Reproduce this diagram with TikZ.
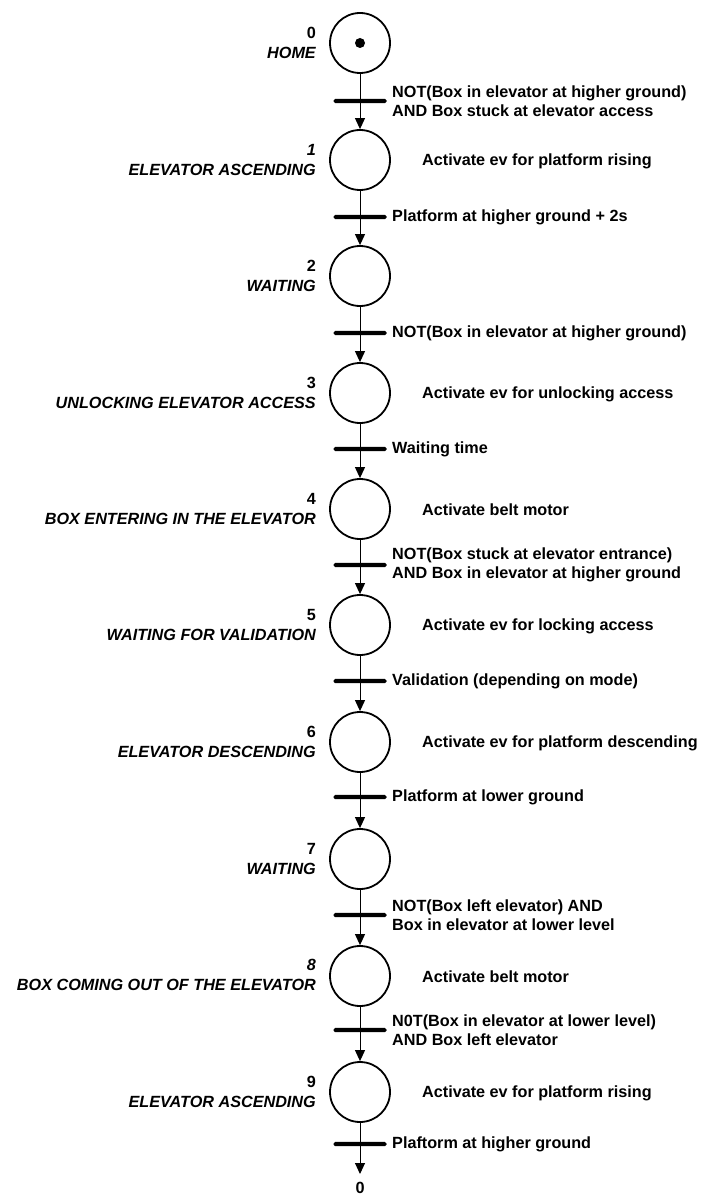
\documentclass[tikz,border=0pt]{standalone}
\usepackage{fontspec}
\setmainfont{Liberation Sans}
\usetikzlibrary{arrows.meta}
\begin{document}
\begin{tikzpicture}[x=1pt,y=-1pt,
  stepnode/.style={circle, draw, line width=1.8pt, minimum size=60pt, inner sep=0pt},
  bar/.style={rectangle, fill, minimum width=53pt, minimum height=4.2pt, inner sep=0pt, rounded corners=1.6pt},
  flow/.style={line width=1pt, -{Triangle[length=11pt,width=10pt]}},
  txt/.style={font=\fontsize{16.2}{19.5}\selectfont\bfseries, inner sep=0pt},
  cond/.style={txt, anchor=west, align=left},
  act/.style={txt, anchor=west},
  lbl/.style={txt, anchor=east, align=right},
]
\useasboundingbox (0,0) rectangle (703,1198);

% steps
\node[stepnode] (s0) at (360,43) {};
\fill (s0.center) circle (5pt);
\node[stepnode] (s1) at (360,160) {};
\node[stepnode] (s2) at (360,276) {};
\node[stepnode] (s3) at (360,393) {};
\node[stepnode] (s4) at (360,509) {};
\node[stepnode] (s5) at (360,625) {};
\node[stepnode] (s6) at (360,742) {};
\node[stepnode] (s7) at (360,859) {};
\node[stepnode] (s8) at (360,976) {};
\node[stepnode] (s9) at (360,1092) {};

% transitions
\node[bar] (t0) at (360,101) {};
\node[bar] (t1) at (360,217) {};
\node[bar] (t2) at (360,333) {};
\node[bar] (t3) at (360,449) {};
\node[bar] (t4) at (360,565) {};
\node[bar] (t5) at (360,681) {};
\node[bar] (t6) at (360,797) {};
\node[bar] (t7) at (360,915) {};
\node[bar] (t8) at (360,1030) {};
\node[bar] (t9) at (360,1144) {};
\coordinate (back) at (360,1174);

% flow
\draw[flow] (s0) -- (t0) -- (s1);
\draw[flow] (s1) -- (t1) -- (s2);
\draw[flow] (s2) -- (t2) -- (s3);
\draw[flow] (s3) -- (t3) -- (s4);
\draw[flow] (s4) -- (t4) -- (s5);
\draw[flow] (s5) -- (t5) -- (s6);
\draw[flow] (s6) -- (t6) -- (s7);
\draw[flow] (s7) -- (t7) -- (s8);
\draw[flow] (s8) -- (t8) -- (s9);
\draw[flow] (s9) -- (t9) -- (back);
\node[txt] (ret) at (360,1188) {0};

% step labels
\node[lbl] (l0) at (316,43)   {0\\\itshape HOME};
\node[lbl] (l1) at (316,160)  {\itshape 1\\\itshape ELEVATOR ASCENDING};
\node[lbl] (l2) at (316,276)  {2\\\itshape WAITING};
\node[lbl] (l3) at (316,393)  {3\\\itshape UNLOCKING ELEVATOR ACCESS};
\node[lbl] (l4) at (316,509)  {4\\\itshape BOX ENTERING IN THE ELEVATOR};
\node[lbl] (l5) at (316,625)  {5\\\itshape WAITING FOR VALIDATION};
\node[lbl] (l6) at (316,742)  {6\\\itshape ELEVATOR DESCENDING};
\node[lbl] (l7) at (316,859)  {7\\\itshape WAITING};
\node[lbl] (l8) at (316,975)  {\itshape 8\\\itshape BOX COMING OUT OF THE ELEVATOR};
\node[lbl] (l9) at (316,1092) {9\\\itshape ELEVATOR ASCENDING};

% actions
\node[act] (a1) at (422,161)  {Activate ev for platform rising};
\node[act] (a3) at (422,394)  {Activate ev for unlocking access};
\node[act] (a4) at (422,510)  {Activate belt motor};
\node[act] (a5) at (422,626)  {Activate ev for locking access};
\node[act] (a6) at (422,743)  {Activate ev for platform descending};
\node[act] (a8) at (422,977)  {Activate belt motor};
\node[act] (a9) at (422,1093) {Activate ev for platform rising};

% receptivities
\node[cond] (c0) at (392,101)  {NOT(Box in elevator at higher ground)\\AND Box stuck at elevator access};
\node[cond] (c1) at (392,217)  {Platform at higher ground + 2s};
\node[cond] (c2) at (392,333)  {NOT(Box in elevator at higher ground)};
\node[cond] (c3) at (392,449)  {Waiting time};
\node[cond] (c4) at (392,565)  {NOT(Box stuck at elevator entrance)\\AND Box in elevator at higher ground};
\node[cond] (c5) at (392,681)  {Validation (depending on mode)};
\node[cond] (c6) at (392,797)  {Platform at lower ground};
\node[cond] (c7) at (392,915)  {NOT(Box left elevator) AND\\Box in elevator at lower level};
\node[cond] (c8) at (392,1030) {N0T(Box in elevator at lower level)\\AND Box left elevator};
\node[cond] (c9) at (392,1144) {Plaftorm at higher ground};
\end{tikzpicture}
\end{document}
